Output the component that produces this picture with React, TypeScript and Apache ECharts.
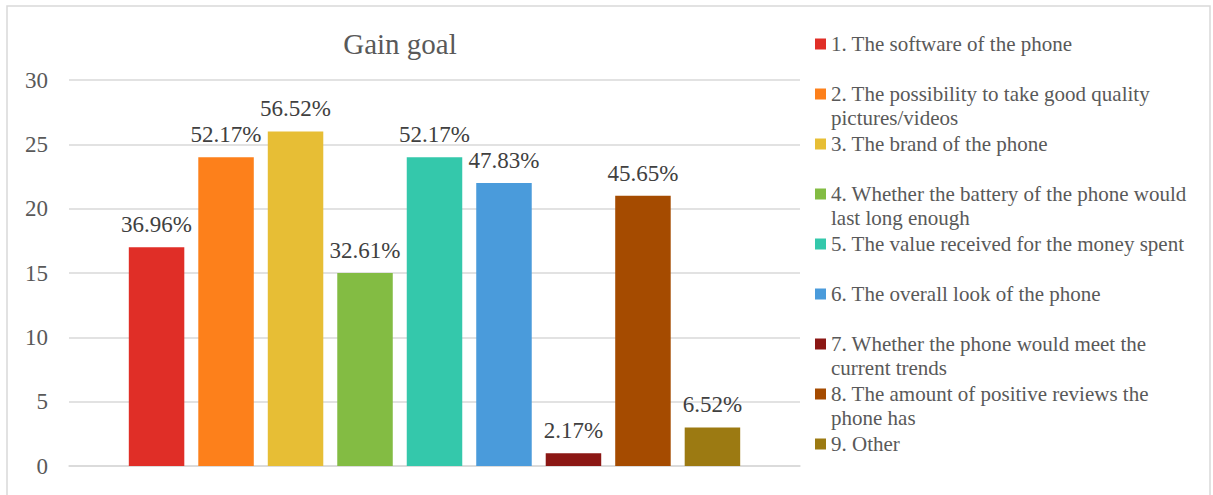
import React, { useEffect, useRef } from "react";
import * as echarts from "echarts";

const title = "Gain goal";
const seriesNames = [
  "1. The software of the phone",
  "2. The possibility to take good quality\npictures/videos",
  "3. The brand of the phone",
  "4. Whether the battery of the phone would\nlast long enough",
  "5. The value received for the money spent",
  "6. The overall look of the phone",
  "7. Whether the phone would meet the\ncurrent trends",
  "8. The amount of positive reviews the\nphone has",
  "9. Other",
];
const values = [17, 24, 26, 15, 24, 22, 1, 21, 3];
const respondents = 46;
const colors = ["#E02E27", "#FD801B", "#E7BE35", "#83BC43", "#34C8AB", "#4A9BDB", "#8B1714", "#A54B00", "#9C7A12"];
const yTicks = { min: 0, max: 30, interval: 5 };

const FONT = "Liberation Serif";

export default function App() {
  const ref = useRef<HTMLDivElement>(null);
  useEffect(() => {
    const chart = echarts.init(ref.current!, null, { renderer: "svg" });
    const legends = seriesNames.map((name, i) => {
      const twoLines = name.includes("\n");
      return {
        data: [name],
        left: 815,
        top: 44 + 50 * i - (twoLines ? 36 : 12),
        padding: 0,
        icon: "rect",
        itemWidth: 11,
        itemHeight: 11,
        itemGap: 0,
        selectedMode: false,
        formatter: (n: string) => (n.includes("\n") ? " \n" + n : n),
        textStyle: { fontFamily: FONT, fontSize: 21, color: "#595959", lineHeight: 24 },
      };
    });
    chart.setOption({
      animation: false,
      backgroundColor: "#ffffff",
      graphic: [
        {
          type: "rect",
          shape: { x: 7, y: 6, width: 1203, height: 520 },
          style: { fill: "none", stroke: "#d9d9d9", lineWidth: 1.5 },
          silent: true,
        },
        {
          type: "text",
          style: {
            text: title,
            x: 400,
            y: 44,
            align: "center",
            verticalAlign: "middle",
            fontFamily: FONT,
            fontSize: 29,
            fill: "#595959",
          },
        },
      ],
      legend: legends,
      grid: { left: 69, right: 413, top: 80, bottom: 29, containLabel: false },
      xAxis: {
        type: "category",
        data: [""],
        axisLine: { show: true, lineStyle: { color: "#d9d9d9", width: 1.5 } },
        axisTick: { show: false },
        axisLabel: { show: false },
      },
      yAxis: {
        type: "value",
        min: yTicks.min,
        max: yTicks.max,
        interval: yTicks.interval,
        axisLine: { show: false },
        axisTick: { show: false },
        splitLine: { lineStyle: { color: "#d9d9d9", width: 1.5 } },
        axisLabel: { fontFamily: FONT, fontSize: 23, color: "#595959", margin: 21 },
      },
      series: seriesNames.map((name, i) => ({
        type: "bar",
        name,
        data: [values[i]],
        barWidth: 55.5,
        barGap: "25.2%",
        itemStyle: { color: colors[i] },
        label: {
          show: true,
          position: "top",
          distance: 11,
          fontFamily: FONT,
          fontSize: 23,
          color: "#404040",
          formatter: (p: any) => ((p.value / respondents) * 100).toFixed(2) + "%",
        },
      })),
    });
    return () => chart.dispose();
  }, []);
  return (
    <div
      ref={ref}
      style={{ position: "absolute", left: 0, top: 0, width: 1213, height: 495 }}
    />
  );
}
